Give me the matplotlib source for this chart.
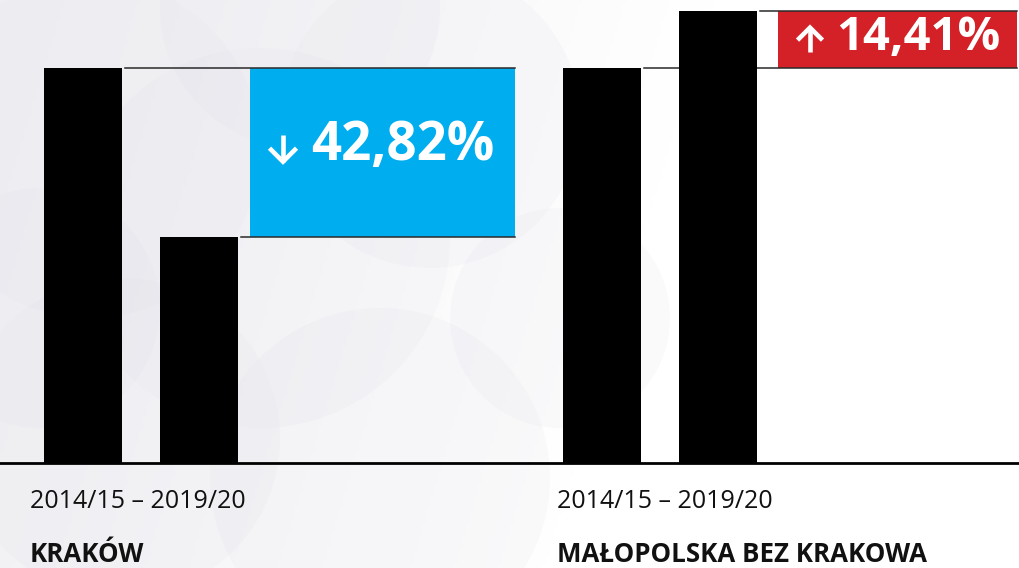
import matplotlib
matplotlib.use("Agg")
import matplotlib.pyplot as plt
import numpy as np
from matplotlib.patches import Circle, Rectangle

# ------------------------
# Data
# ------------------------
groups = ["KRAKÓW", "MAŁOPOLSKA BEZ KRAKOWA"]
period = "2014/15 – 2019/20"
values_start = [100.0, 100.0]      # 2014/15 (index)
values_end = [57.18, 114.41]       # 2019/20
changes = ["42,82%", "14,41%"]
directions = ["down", "up"]

BLUE = "#00aeef"
RED = "#d42027"
FONT = ["Open Sans", "DejaVu Sans"]

# layout (pixels on a 1020 x 568 canvas)
W, H = 1020, 568
base_px = 105            # baseline distance from bottom
px_per_unit = 3.95
group_left = [44, 563]
label_x = [30, 557]
bar_w = 78
bar_gap = 116
box_x = [(250, 515), (778, 1017)]
box_font = [38, 34]
arrow_size = [(27, 27), (25, 24)]
text_dx = [61, 58]
arrow_dx = [33, 32]

fig = plt.figure(figsize=(W / 100, H / 100), dpi=100)

# background: soft grey fading to white, with faint circles
bg = fig.add_axes([0, 0, 1, 1], zorder=0)
bg.set_xlim(0, W)
bg.set_ylim(0, H)
bg.axis("off")
gx = np.linspace(0, 1, 256)
gy = np.linspace(0, 1, 128)
GX, GY = np.meshgrid(gx, gy)
fade = np.clip(1.05 - (GX * 1.5 + (1 - GY) * 0.25), 0, 1)
top = np.array([0.94, 0.94, 0.955])
img = np.ones((128, 256, 3)) * (1 - fade[..., None]) + top * fade[..., None]
bg.imshow(img, extent=[0, W, 0, H], origin="lower", aspect="auto")
for cx, cy, r in [(90, 420, 170), (260, 330, 190), (120, 130, 160), (380, 90, 170),
                  (430, 450, 150), (40, 260, 120), (560, 250, 110), (300, 560, 140)]:
    bg.add_patch(Circle((cx, cy), r, facecolor="#dadae4", edgecolor="none",
                        alpha=0.12))

ax = fig.add_axes([0, 0, 1, 1], zorder=1)
ax.patch.set_alpha(0)
ax.set_xlim(0, W)
ax.set_ylim(-base_px / px_per_unit, (H - base_px) / px_per_unit)
ax.axis("off")


def draw_arrow(cx, cy, direction, w=26, h=27, lw=3.3):
    # chevron arrow, sizes in pixels; y converted to value units
    s = -1 if direction == "down" else 1
    tip = cy + s * h / 2 / px_per_unit
    tail = cy - s * h / 2 / px_per_unit
    wing = tip - s * (w / 2) / px_per_unit
    ax.plot([cx, cx], [tail, tip], color="white", lw=lw, solid_capstyle="butt", zorder=5)
    ax.plot([cx - w / 2, cx, cx + w / 2], [wing, tip, wing], color="white", lw=lw,
            solid_joinstyle="miter", solid_capstyle="butt", zorder=5)


for i in range(len(groups)):
    x0 = group_left[i]
    x1 = x0 + bar_gap
    v0, v1 = values_start[i], values_end[i]
    ax.bar([x0, x1], [v0, v1], width=bar_w, align="edge", color="black", zorder=3)

    bx0, bx1 = box_x[i]
    lo, hi = min(v0, v1), max(v0, v1)
    ax.add_patch(Rectangle((bx0, lo), bx1 - bx0, hi - lo,
                           facecolor=BLUE if directions[i] == "down" else RED,
                           edgecolor="none", zorder=2))
    # connector lines from bar tops to the box end
    ax.plot([x0 + bar_w + 3, bx1], [v0, v0], color="#2a2a2a", lw=1.1, zorder=2.5)
    ax.plot([x1 + bar_w + 3, bx1], [v1, v1], color="#2a2a2a", lw=1.1, zorder=2.5)

    ymid = (lo + hi) / 2 + (hi - lo) * 0.04
    ax.text(bx0 + text_dx[i], ymid, changes[i], color="white", fontsize=box_font[i],
            fontweight="bold", family=FONT, ha="left", va="center", zorder=4)
    aw, ah = arrow_size[i]
    draw_arrow(bx0 + arrow_dx[i], ymid - 0.6, directions[i], w=aw, h=ah)

    # labels
    fig.text(label_x[i] / W, (H - 502) / H, period, fontsize=18, family=FONT,
             color="#111111", ha="left", va="center")
    fig.text(label_x[i] / W, (H - 554) / H, groups[i], fontsize=18.6, fontweight="bold",
             family=FONT, color="#111111", ha="left", va="center")

# baseline
ax.axhline(0, color="black", lw=2, zorder=4)

fig.savefig("out.png", dpi=100)
